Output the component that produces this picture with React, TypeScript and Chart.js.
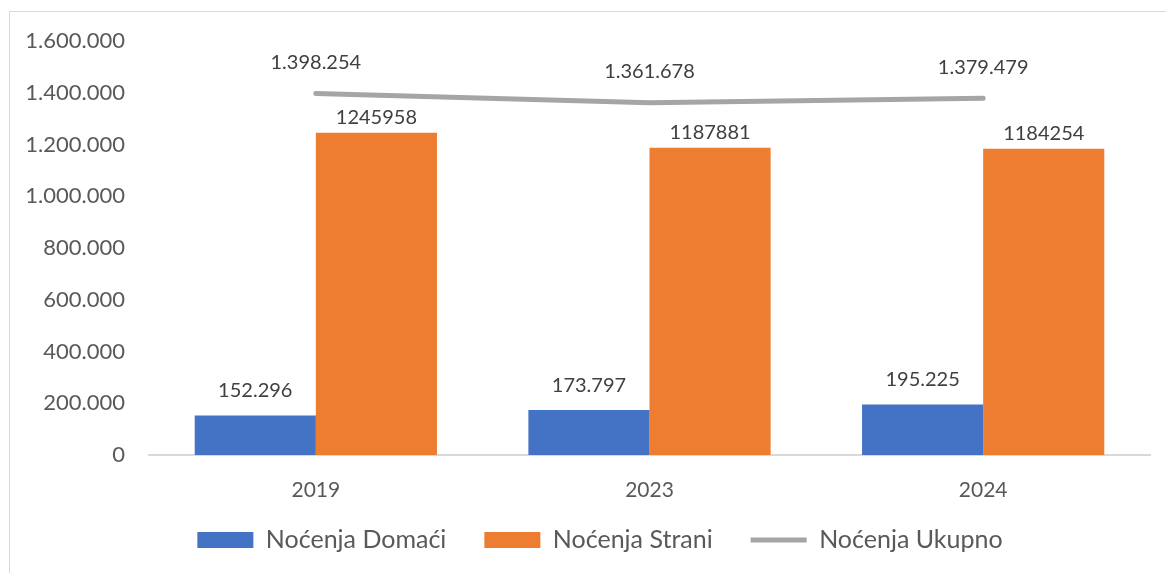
import React, { useEffect, useRef } from "react";
import { Chart, registerables } from "chart.js";

Chart.register(...registerables);

const categories = ["2019", "2023", "2024"];
const domaci = [152296, 173797, 195225];
const strani = [1245958, 1187881, 1184254];
const ukupno = [1398254, 1361678, 1379479];
const yTicks = [0, 200000, 400000, 600000, 800000, 1000000, 1200000, 1400000, 1600000];
const seriesNames = ["Noćenja Domaći", "Noćenja Strani", "Noćenja Ukupno"];

const FONT = "Lato, 'Open Sans', sans-serif";

const dotted = (v: number) => String(Math.round(v)).replace(/\B(?=(\d{3})+(?!\d))/g, ".");

const labelPlugin = {
  id: "valueLabels",
  afterDatasetsDraw(chart: any) {
    const ctx = chart.ctx;
    ctx.save();
    ctx.fillStyle = "#404040";
    ctx.font = `20px ${FONT}`;
    ctx.textAlign = "center";
    ctx.textBaseline = "middle";
    chart.data.datasets.forEach((ds: any, i: number) => {
      const meta = chart.getDatasetMeta(i);
      const off = ds.labelOffset || 20;
      meta.data.forEach((el: any, j: number) => {
        const v = ds.data[j];
        const txt = ds.dotFormat ? dotted(v) : String(v);
        ctx.fillText(txt, el.x, el.y - off);
      });
    });
    ctx.restore();
  },
};

// nudge the legend row into place after layout
const legendShift = {
  id: "legendShift",
  afterLayout(chart: any) {
    const lg = chart.legend;
    if (!lg) return;
    lg.left += 20;
    lg.right += 20;
    lg.top -= 10.5;
    lg.bottom -= 10.5;
  },
};

export default function App() {
  const ref = useRef<HTMLCanvasElement | null>(null);
  useEffect(() => {
    if (!ref.current) return;
    const chart = new Chart(ref.current, {
      type: "bar",
      data: {
        labels: categories,
        datasets: [
          {
            type: "line",
            label: seriesNames[2],
            data: ukupno,
            borderColor: "#A5A5A5",
            backgroundColor: "#A5A5A5",
            borderWidth: 5,
            borderCapStyle: "round",
            pointRadius: 0,
            pointStyle: "line",
            order: 0,
            dotFormat: true,
            labelOffset: 31,
          } as any,
          {
            label: seriesNames[0],
            data: domaci,
            backgroundColor: "#4472C4",
            pointStyle: "rect",
            order: 1,
            dotFormat: true,
            labelOffset: 25,
          } as any,
          {
            label: seriesNames[1],
            data: strani,
            backgroundColor: "#ED7D31",
            pointStyle: "rect",
            order: 1,
            dotFormat: false,
            labelOffset: 15,
          } as any,
        ],
      },
      options: {
        responsive: false,
        animation: false,
        layout: { padding: { top: 37, right: 16, bottom: 0, left: 0 } },
        datasets: {
          bar: { barPercentage: 1, categoryPercentage: 0.726 },
        },
        plugins: {
          tooltip: { enabled: false },
          legend: {
            position: "bottom",
            labels: {
              color: "#595959",
              font: { family: FONT, size: 25 },
              usePointStyle: true,
              pointStyleWidth: 56,
              boxHeight: 16,
              padding: 38,
              sort: (a: any, b: any) => {
                const ord = [1, 2, 0];
                return ord.indexOf(a.datasetIndex) - ord.indexOf(b.datasetIndex);
              },
            },
          },
        },
        scales: {
          x: {
            grid: { display: false, drawTicks: false },
            border: { display: true, color: "#D9D9D9", width: 2 },
            ticks: { color: "#595959", font: { family: FONT, size: 21 }, padding: 23 },
            afterFit: (s: any) => {
              s.height = 45;
            },
          },
          y: {
            min: 0,
            max: 1600000,
            grid: { display: false, drawTicks: false },
            border: { display: false },
            afterBuildTicks: (s: any) => {
              s.ticks = yTicks.map((v) => ({ value: v }));
            },
            ticks: {
              color: "#595959",
              font: { family: FONT, size: 22 },
              padding: 24,
              callback: (v: any) => dotted(Number(v)),
            },
            afterFit: (s: any) => {
              s.width = 139;
            },
          },
        },
      },
      plugins: [labelPlugin, legendShift],
    } as any);
    return () => chart.destroy();
  }, []);
  return (
    <>
      <div
        style={{
          position: "fixed",
          left: 9,
          top: 11,
          width: 1200,
          height: 600,
          border: "1px solid #D9D9D9",
          background: "#fff",
        }}
      />
      <canvas
        ref={ref}
        width={1156}
        height={569}
        style={{ position: "fixed", left: 10, top: 4, display: "block" }}
      />
    </>
  );
}
